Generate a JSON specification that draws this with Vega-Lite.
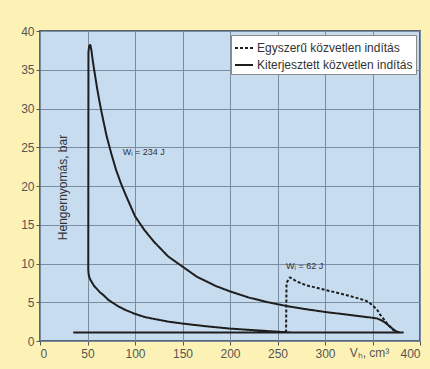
{
  "$schema": "https://vega.github.io/schema/vega-lite/v6.json",
  "autosize": "none",
  "width": 380,
  "height": 310,
  "padding": {"left": 40, "top": 31, "right": 10, "bottom": 28},
  "background": "#fdf2b6",
  "config": {
    "font": "Liberation Sans",
    "view": {"fill": "#c8dcf0", "stroke": "#5a6470", "strokeWidth": 2},
    "axis": {
      "domain": false,
      "gridColor": "#7a8ca0",
      "gridOpacity": 1,
      "gridWidth": 1,
      "tickColor": "#555555",
      "tickSize": 4,
      "labelColor": "#555555",
      "labelFontSize": 12,
      "labelOverlap": false,
      "titleColor": "#333333",
      "titleFontWeight": "normal",
      "titleFontSize": 12
    }
  },
  "datasets": {
    "curves": [
      {"series": "Kiterjesztett közvetlen indítás", "i": 1, "v": 265, "p": 1.1},
      {"series": "Kiterjesztett közvetlen indítás", "i": 2, "v": 250, "p": 1.2},
      {"series": "Kiterjesztett közvetlen indítás", "i": 3, "v": 225, "p": 1.4},
      {"series": "Kiterjesztett közvetlen indítás", "i": 4, "v": 200, "p": 1.6},
      {"series": "Kiterjesztett közvetlen indítás", "i": 5, "v": 175, "p": 1.9},
      {"series": "Kiterjesztett közvetlen indítás", "i": 6, "v": 150, "p": 2.25},
      {"series": "Kiterjesztett közvetlen indítás", "i": 7, "v": 135, "p": 2.5},
      {"series": "Kiterjesztett közvetlen indítás", "i": 8, "v": 120, "p": 2.85},
      {"series": "Kiterjesztett közvetlen indítás", "i": 9, "v": 110, "p": 3.1},
      {"series": "Kiterjesztett közvetlen indítás", "i": 10, "v": 100, "p": 3.5},
      {"series": "Kiterjesztett közvetlen indítás", "i": 11, "v": 90, "p": 4.0},
      {"series": "Kiterjesztett közvetlen indítás", "i": 12, "v": 82, "p": 4.5},
      {"series": "Kiterjesztett közvetlen indítás", "i": 13, "v": 77, "p": 4.9},
      {"series": "Kiterjesztett közvetlen indítás", "i": 14, "v": 72, "p": 5.3},
      {"series": "Kiterjesztett közvetlen indítás", "i": 15, "v": 67, "p": 5.9},
      {"series": "Kiterjesztett közvetlen indítás", "i": 16, "v": 63, "p": 6.3},
      {"series": "Kiterjesztett közvetlen indítás", "i": 17, "v": 60, "p": 6.7},
      {"series": "Kiterjesztett közvetlen indítás", "i": 18, "v": 57, "p": 7.1},
      {"series": "Kiterjesztett közvetlen indítás", "i": 19, "v": 55, "p": 7.5},
      {"series": "Kiterjesztett közvetlen indítás", "i": 20, "v": 53, "p": 7.9},
      {"series": "Kiterjesztett közvetlen indítás", "i": 21, "v": 52, "p": 8.2},
      {"series": "Kiterjesztett közvetlen indítás", "i": 22, "v": 51.2, "p": 8.6},
      {"series": "Kiterjesztett közvetlen indítás", "i": 23, "v": 50.8, "p": 9.2},
      {"series": "Kiterjesztett közvetlen indítás", "i": 24, "v": 51, "p": 37.3},
      {"series": "Kiterjesztett közvetlen indítás", "i": 25, "v": 51.8, "p": 38.1},
      {"series": "Kiterjesztett közvetlen indítás", "i": 26, "v": 53, "p": 38.2},
      {"series": "Kiterjesztett közvetlen indítás", "i": 27, "v": 54, "p": 37.6},
      {"series": "Kiterjesztett közvetlen indítás", "i": 28, "v": 55.5, "p": 36.2},
      {"series": "Kiterjesztett közvetlen indítás", "i": 29, "v": 57, "p": 35.0},
      {"series": "Kiterjesztett közvetlen indítás", "i": 30, "v": 60, "p": 32.7},
      {"series": "Kiterjesztett közvetlen indítás", "i": 31, "v": 62, "p": 31.3},
      {"series": "Kiterjesztett közvetlen indítás", "i": 32, "v": 65, "p": 29.4},
      {"series": "Kiterjesztett közvetlen indítás", "i": 33, "v": 70, "p": 26.5},
      {"series": "Kiterjesztett közvetlen indítás", "i": 34, "v": 75, "p": 24.2},
      {"series": "Kiterjesztett közvetlen indítás", "i": 35, "v": 80, "p": 22.1},
      {"series": "Kiterjesztett közvetlen indítás", "i": 36, "v": 85, "p": 20.4},
      {"series": "Kiterjesztett közvetlen indítás", "i": 37, "v": 90, "p": 18.9},
      {"series": "Kiterjesztett közvetlen indítás", "i": 38, "v": 95, "p": 17.5},
      {"series": "Kiterjesztett közvetlen indítás", "i": 39, "v": 100, "p": 16.1},
      {"series": "Kiterjesztett közvetlen indítás", "i": 40, "v": 110, "p": 14.3},
      {"series": "Kiterjesztett közvetlen indítás", "i": 41, "v": 120, "p": 12.8},
      {"series": "Kiterjesztett közvetlen indítás", "i": 42, "v": 135, "p": 10.9},
      {"series": "Kiterjesztett közvetlen indítás", "i": 43, "v": 150, "p": 9.6},
      {"series": "Kiterjesztett közvetlen indítás", "i": 44, "v": 165, "p": 8.3},
      {"series": "Kiterjesztett közvetlen indítás", "i": 45, "v": 185, "p": 7.1},
      {"series": "Kiterjesztett közvetlen indítás", "i": 46, "v": 200, "p": 6.4},
      {"series": "Kiterjesztett közvetlen indítás", "i": 47, "v": 220, "p": 5.6},
      {"series": "Kiterjesztett közvetlen indítás", "i": 48, "v": 240, "p": 5.0},
      {"series": "Kiterjesztett közvetlen indítás", "i": 49, "v": 260, "p": 4.5},
      {"series": "Kiterjesztett közvetlen indítás", "i": 50, "v": 280, "p": 4.1},
      {"series": "Kiterjesztett közvetlen indítás", "i": 51, "v": 300, "p": 3.75},
      {"series": "Kiterjesztett közvetlen indítás", "i": 52, "v": 320, "p": 3.45},
      {"series": "Kiterjesztett közvetlen indítás", "i": 53, "v": 340, "p": 3.15},
      {"series": "Kiterjesztett közvetlen indítás", "i": 54, "v": 350, "p": 3.0},
      {"series": "Kiterjesztett közvetlen indítás", "i": 55, "v": 355, "p": 2.9},
      {"series": "Kiterjesztett közvetlen indítás", "i": 56, "v": 359, "p": 2.7},
      {"series": "Kiterjesztett közvetlen indítás", "i": 57, "v": 363, "p": 2.4},
      {"series": "Kiterjesztett közvetlen indítás", "i": 58, "v": 366, "p": 2.1},
      {"series": "Kiterjesztett közvetlen indítás", "i": 59, "v": 369, "p": 1.8},
      {"series": "Kiterjesztett közvetlen indítás", "i": 60, "v": 372, "p": 1.5},
      {"series": "Kiterjesztett közvetlen indítás", "i": 61, "v": 375, "p": 1.25},
      {"series": "Kiterjesztett közvetlen indítás", "i": 62, "v": 378, "p": 1.1},
      {"series": "Kiterjesztett közvetlen indítás", "i": 63, "v": 382, "p": 1.1},
      {"series": "Kiterjesztett közvetlen indítás", "i": 64, "v": 35, "p": 1.1},
      {"series": "Egyszerű közvetlen indítás", "i": 1, "v": 259, "p": 1.1},
      {"series": "Egyszerű közvetlen indítás", "i": 2, "v": 259.5, "p": 7.5},
      {"series": "Egyszerű közvetlen indítás", "i": 3, "v": 263, "p": 8.2},
      {"series": "Egyszerű közvetlen indítás", "i": 4, "v": 270, "p": 7.7},
      {"series": "Egyszerű közvetlen indítás", "i": 5, "v": 280, "p": 7.2},
      {"series": "Egyszerű közvetlen indítás", "i": 6, "v": 300, "p": 6.6},
      {"series": "Egyszerű közvetlen indítás", "i": 7, "v": 320, "p": 6.0},
      {"series": "Egyszerű közvetlen indítás", "i": 8, "v": 335, "p": 5.5},
      {"series": "Egyszerű közvetlen indítás", "i": 9, "v": 343, "p": 5.2},
      {"series": "Egyszerű közvetlen indítás", "i": 10, "v": 347, "p": 4.9},
      {"series": "Egyszerű közvetlen indítás", "i": 11, "v": 351, "p": 4.5},
      {"series": "Egyszerű közvetlen indítás", "i": 12, "v": 355, "p": 4.0},
      {"series": "Egyszerű közvetlen indítás", "i": 13, "v": 358, "p": 3.4},
      {"series": "Egyszerű közvetlen indítás", "i": 14, "v": 362, "p": 2.8},
      {"series": "Egyszerű közvetlen indítás", "i": 15, "v": 365, "p": 2.3},
      {"series": "Egyszerű közvetlen indítás", "i": 16, "v": 368, "p": 1.9},
      {"series": "Egyszerű közvetlen indítás", "i": 17, "v": 371, "p": 1.5},
      {"series": "Egyszerű közvetlen indítás", "i": 18, "v": 375, "p": 1.2},
      {"series": "Egyszerű közvetlen indítás", "i": 19, "v": 380, "p": 1.1}
    ],
    "notes": [
      {"v": 87, "p": 24.4, "text": "Wᵢ = 234 J"},
      {"v": 259, "p": 9.7, "text": "Wᵢ = 62 J"}
    ]
  },
  "encoding": {
    "x": {
      "field": "v", "type": "quantitative",
      "scale": {"domain": [0, 400], "nice": false},
      "axis": {
        "values": [0, 50, 100, 150, 200, 250, 300, 350, 400],
        "labelExpr": "datum.value == 350 ? '' : datum.label",
        "labelPadding": 3,
        "title": "Vₕ, cm³",
        "titleX": 329,
        "titleY": 11,
        "titleAlign": "center",
        "titleBaseline": "middle",
        "titleColor": "#555555",
        "titleFontSize": 12
      }
    },
    "y": {
      "field": "p", "type": "quantitative",
      "scale": {"domain": [0, 40], "nice": false},
      "axis": {
        "values": [0, 5, 10, 15, 20, 25, 30, 35, 40],
        "labelPadding": 2,
        "title": "Hengernyomás, bar",
        "titleX": 22,
        "titleY": 156,
        "titleAngle": 270,
        "titleAlign": "center",
        "titleBaseline": "middle"
      }
    }
  },
  "layer": [
    {
      "data": {"name": "curves"},
      "mark": {"type": "line", "color": "#1e1e1e", "strokeWidth": 2, "strokeJoin": "round"},
      "encoding": {
        "strokeDash": {
          "field": "series", "type": "nominal",
          "scale": {
            "domain": ["Egyszerű közvetlen indítás", "Kiterjesztett közvetlen indítás"],
            "range": [[3, 2], [1, 0]]
          },
          "legend": {
            "title": null,
            "orient": "top-right",
            "offset": 4,
            "fillColor": "#ffffff",
            "strokeColor": "#8a8a8a",
            "padding": 3,
            "rowPadding": 1,
            "symbolType": "stroke",
            "symbolSize": 324,
            "symbolStrokeWidth": 2,
            "symbolStrokeColor": "#1e1e1e",
            "labelFontSize": 12,
            "labelColor": "#333333",
            "labelOffset": 3
          }
        },
        "order": {"field": "i", "type": "quantitative"}
      }
    },
    {
      "data": {"name": "notes"},
      "mark": {"type": "text", "align": "left", "baseline": "middle", "fontSize": 9, "color": "#333333"},
      "encoding": {
        "text": {"field": "text"}
      }
    }
  ]
}
